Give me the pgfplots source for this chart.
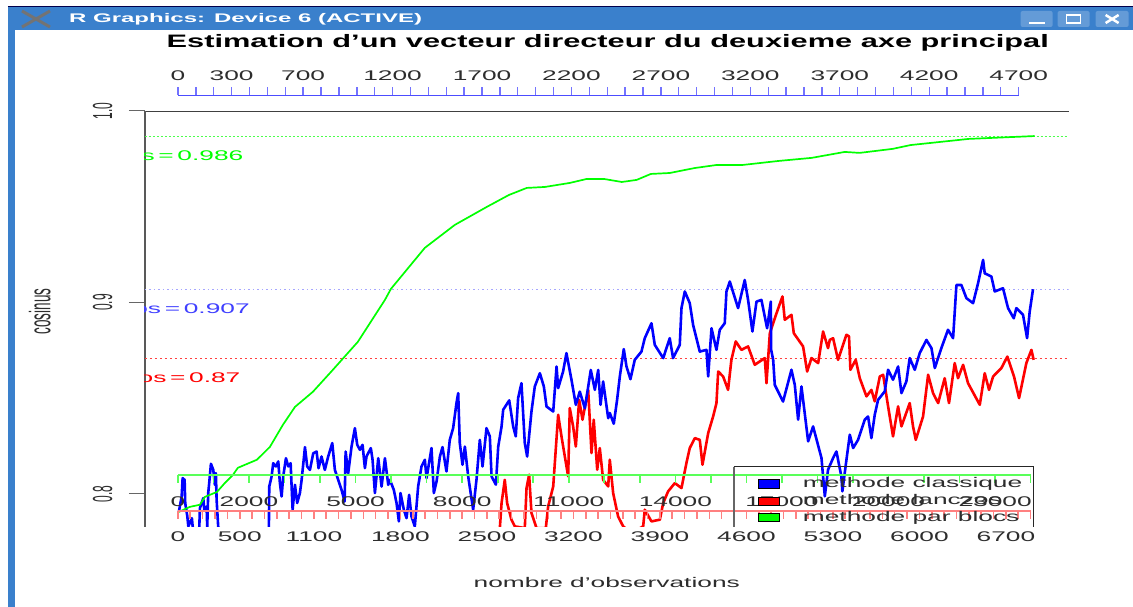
\documentclass[border=0pt]{standalone}
\usepackage{pgfplots}
\pgfplotsset{compat=1.18}
\usepackage{pgfplotstable}
\usepackage{fontspec}
\setmainfont{Liberation Sans}
\definecolor{barblue}{RGB}{58,128,204}
\definecolor{btnblue}{RGB}{100,155,215}
\definecolor{txt}{RGB}{45,45,45}
\newcommand{\tk}[1]{\scalebox{1.88}[1]{\fontsize{14}{14}\selectfont\textcolor{txt}{#1}}}
\newcommand{\yl}[1]{\scalebox{2.3}[1]{\rotatebox{90}{\fontsize{12}{12}\selectfont\textcolor{txt}{#1}}}}
\newcommand{\eqs}{\hspace{0.14em}=\hspace{0.14em}}
\pgfplotstableread{
n c
8 .7908
30 .7986
38 .8082
54 .8073
59 .7951
76 .7882
84 .7830
113 .7873
119 .7830
138 .7780
165 .7780
173 .7830
178 .7925
205 .7978
213 .7917
232 .7934
237 .7826
245 .8004
253 .8056
267 .8157
286 .8125
299 .8047
307 .8108
313 .7969
326 .7826
475 .7743
717 .7743
736 .7826
739 .8038
758 .8091
771 .8160
793 .8143
812 .8169
825 .8056
839 .7986
852 .8091
874 .8186
893 .8143
912 .8160
928 .7917
947 .8047
965 .7952
987 .8004
1001 .8073
1028 .8244
1046 .8143
1068 .8125
1095 .8212
1122 .8221
1138 .8134
1162 .8195
1189 .8125
1216 .8195
1249 .8265
1270 .8125
1297 .8073
1324 .8021
1349 .7960
1357 .8221
1378 .8108
1405 .8247
1432 .8343
1451 .8256
1473 .8230
1494 .8256
1513 .8134
1526 .8195
1561 .8239
1575 .8178
1594 .8004
1621 .8186
1648 .8038
1675 .8186
1702 .8047
1715 .8073
1747 .8021
1769 .7952
1788 .7856
1801 .8004
1828 .7917
1850 .7873
1871 .7995
1890 .7882
1917 .7830
1944 .8039
1971 .8143
1998 .8178
2012 .8082
2052 .8239
2071 .8004
2093 .8065
2120 .8195
2141 .8244
2173 .8117
2200 .8282
2227 .8343
2254 .8474
2268 .8526
2281 .8265
2303 .8152
2322 .8247
2349 .8091
2389 .7917
2416 .8073
2443 .8282
2465 .8143
2497 .8343
2524 .8300
2538 .8091
2573 .8048
2592 .8247
2619 .8352
2632 .8439
2681 .8488
2713 .8352
2734 .8300
2753 .8500
2780 .8578
2807 .8265
2826 .8195
2861 .8430
2888 .8561
2929 .8630
2961 .8561
2983 .8456
3037 .8430
3064 .8665
3077 .8552
3117 .8639
3144 .8735
3185 .8595
3220 .8465
3252 .8534
3293 .8447
3341 .8647
3374 .8543
3401 .8647
3420 .8465
3441 .8587
3482 .8395
3495 .8422
3527 .8366
3554 .8491
3576 .8613
3608 .8756
3630 .8665
3662 .8599
3697 .8700
3751 .8743
3778 .8813
3832 .8891
3859 .8778
3927 .8709
3980 .8813
4007 .8709
4061 .8778
4075 .8970
4102 .9057
4142 .8996
4169 .8883
4223 .8743
4277 .8752
4291 .8613
4318 .8865
4358 .8752
4385 .8857
4425 .8891
4439 .9057
4466 .9109
4533 .8970
4587 .9117
4614 .9013
4649 .8848
4682 .9004
4722 .9013
4768 .8865
4798 .9004
4801 .8752
4817 .8700
4830 .8569
4897 .8482
4965 .8648
4992 .8569
5019 .8387
5046 .8561
5100 .8274
5140 .8352
5208 .8187
5235 .7987
5261 .8126
5302 .8187
5329 .8221
5369 .8091
5377 .8013
5410 .8178
5437 .8309
5464 .8239
5504 .8282
5558 .8387
5585 .8404
5612 .8291
5639 .8413
5666 .8491
5720 .8535
5747 .8648
5787 .8596
5828 .8665
5855 .8526
5895 .8587
5922 .8709
5963 .8648
6003 .8735
6057 .8804
6098 .8761
6125 .8657
6178 .8761
6232 .8857
6273 .8813
6300 .9091
6340 .9091
6381 .9022
6435 .8996
6475 .9100
6516 .9222
6529 .9152
6583 .9135
6610 .9057
6677 .9074
6718 .8970
6764 .8917
6785 .8970
6839 .8935
6872 .8813
6893 .8952
6920 .9069
}\blue
\pgfplotstableread{
n c
2590 .7750
2605 .7821
2619 .7952
2645 .8073
2664 .7952
2699 .7865
2726 .7830
2807 .7821
2821 .8030
2842 .8100
2861 .7900
2902 .7821
2977 .7821
2996 .7934
3037 .8039
3050 .8161
3077 .8413
3104 .8300
3131 .8195
3158 .8091
3171 .8448
3198 .8352
3220 .8247
3247 .8491
3274 .8387
3320 .8543
3347 .8213
3365 .8387
3393 .8126
3414 .8239
3441 .8073
3482 .8039
3495 .8178
3522 .8004
3562 .7882
3603 .7830
3670 .7795
3765 .7830
3778 .7917
3832 .7856
3900 .7865
3927 .7952
3967 .8013
4021 .8056
4075 .8030
4115 .8161
4142 .8239
4183 .8291
4223 .8282
4245 .8152
4291 .8317
4331 .8404
4358 .8474
4372 .8639
4412 .8613
4452 .8543
4479 .8700
4514 .8796
4560 .8752
4614 .8770
4668 .8674
4749 .8709
4763 .8578
4790 .8839
4844 .8943
4892 .9031
4911 .8909
4965 .8935
4984 .8839
5059 .8770
5092 .8639
5127 .8709
5181 .8683
5221 .8848
5261 .8761
5275 .8804
5302 .8813
5342 .8700
5410 .8831
5431 .8822
5442 .8648
5485 .8700
5518 .8604
5572 .8509
5612 .8543
5639 .8483
5680 .8613
5707 .8622
5747 .8457
5787 .8300
5828 .8457
5855 .8352
5922 .8474
5949 .8352
5971 .8282
6030 .8404
6071 .8622
6111 .8526
6152 .8474
6205 .8604
6240 .8474
6286 .8683
6313 .8604
6354 .8674
6394 .8578
6489 .8465
6529 .8630
6564 .8543
6597 .8613
6664 .8657
6712 .8717
6766 .8613
6807 .8500
6866 .8683
6907 .8752
6925 .8700
}\red
\pgfplotstableread{
n c
8 .7906
97 .7932
178 .7943
218 .7984
316 .8010
380 .8057
445 .8099
485 .8136
639 .8178
744 .8245
849 .8360
947 .8454
1092 .8533
1254 .8648
1456 .8794
1675 .9013
1723 .9070
1998 .9285
2241 .9405
2500 .9499
2678 .9561
2823 .9598
2969 .9603
3171 .9624
3309 .9645
3446 .9645
3592 .9629
3713 .9640
3827 .9671
3980 .9676
4183 .9702
4361 .9718
4571 .9718
4862 .9739
5129 .9755
5396 .9786
5517 .9781
5784 .9802
5930 .9822
6165 .9838
6399 .9854
6577 .9859
6755 .9864
6933 .9869
}\greenline
\begin{document}
\begin{tikzpicture}[x=1pt,y=1pt]
% page and window
\path[fill=white] (0,0) rectangle (1133,-607);
\fill[barblue] (8,-7) rectangle (1133,-30);
\draw[black!70!blue,line width=0.8pt] (8,-6.6) -- (1133,-6.6);
\fill[barblue] (8,-30) rectangle (15,-607);
\draw[black!55,line width=3pt] (22,-11) -- (50,-27) (22,-27) -- (50,-11);
\node[anchor=west,inner sep=0,text=white] at (69,-19.5) {\scalebox{1.92}[1]{\fontsize{12.5}{13}\selectfont\bfseries R Graphics: Device 6 (ACTIVE)}};
\foreach \a/\b in {1021/1053,1058/1090,1096/1129}{\fill[btnblue,rounded corners=2pt] (\a,-11) rectangle (\b,-27);}
\fill[white] (1029,-22) rectangle (1045,-24.5);
\draw[white,line width=1.5pt] (1067,-15) rectangle (1081,-23);
\draw[white,line width=2.5pt] (1106,-15) -- (1119,-23) (1106,-23) -- (1119,-15);
% title
\node[inner sep=0] at (608,-42.5) {\scalebox{1.71}[1]{\fontsize{18}{18}\selectfont\bfseries Estimation d'un vecteur directeur du deuxieme axe principal}};
% main axis
\begin{axis}[
  at={(145pt,-527pt)},anchor=south west,
  scale only axis,width=924pt,height=416pt,
  xmin=-267,xmax=7208,ymin=0.78277,ymax=1,
  separate axis lines,
  axis y line*=left,axis x line*=top,
  xtick=\empty,
  ytick={0.8,0.9,1},
  yticklabels={\yl{0.8},\yl{0.9},\yl{1.0}},
  tick align=outside,major tick length=16pt,
  tick style={black!60,line width=1pt},
  y axis line style={black!65,line width=1.8pt},
  x axis line style={black!75,line width=0.9pt},
  yticklabel style={xshift=-13pt},
  ylabel={\scalebox{2.2}[1]{\rotatebox{90}{\fontsize{13.5}{14}\selectfont\textcolor{txt}{cosinus}}}},
  ylabel style={rotate=-90,at={(axis description cs:-0.114,0.518)},anchor=center},
  clip=true,
]
\addplot[green!70!white,line width=0.8pt,dash pattern=on 2pt off 2pt,forget plot] coordinates {(-267,0.9867) (7208,0.9867)};
\addplot[blue!35,line width=1.2pt,dash pattern=on 1.5pt off 3pt,forget plot] coordinates {(-267,0.9068) (7208,0.9068)};
\addplot[red!75,line width=0.8pt,dash pattern=on 2.5pt off 2.5pt,forget plot] coordinates {(-267,0.8708) (7208,0.8708)};
\addplot[red,line width=2.6pt,line join=round] table[x=n,y=c] {\red};
\addplot[blue,line width=2.6pt,line join=round] table[x=n,y=c] {\blue};
\addplot[green,line width=1.7pt,line join=round] table[x=n,y=c] {\greenline};
\end{axis}
% blue top axis
\begin{axis}[
  at={(178pt,-96.3pt)},anchor=south west,
  scale only axis,width=841pt,height=1pt,
  xmin=0,xmax=4700,ymin=0,ymax=1,
  axis x line*=top,axis y line=none,
  scaled x ticks=false,
  xtick={0,100,...,4700},
  xticklabels=\empty,
  extra x ticks={0,300,700,1200,1700,2200,2700,3200,3700,4200,4700},
  extra x tick labels={\tk{0},\tk{300},\tk{700},\tk{1200},\tk{1700},\tk{2200},\tk{2700},\tk{3200},\tk{3700},\tk{4200},\tk{4700}},
  tick align=outside,major tick length=8pt,
  tick style={blue!55,line width=1.4pt},
  x axis line style={blue!70,line width=1pt},
  extra x tick style={xticklabel style={yshift=3pt}},
]
\end{axis}
% green axis
\begin{axis}[
  at={(178pt,-475pt)},anchor=south west,
  scale only axis,width=853pt,height=1pt,
  xmin=0,xmax=24000,ymin=0,ymax=1,
  axis x line*=bottom,axis y line=none,
  scaled x ticks=false,
  xtick={0,1000,...,24000},
  xticklabels=\empty,
  extra x ticks={0,2000,5000,8000,11000,14000,17000,20000,23000},
  extra x tick labels={\tk{0},\tk{2000},\tk{5000},\tk{8000},\tk{11000},\tk{14000},\tk{17000},\tk{20000},\tk{23000}},
  tick align=outside,major tick length=8pt,
  tick style={green!65!white,line width=1.6pt},
  x axis line style={green!65!white,line width=1.5pt},
  extra x tick style={xticklabel style={yshift=-10pt}},
]
\end{axis}
% red axis
\begin{axis}[
  at={(178pt,-511pt)},anchor=south west,
  scale only axis,width=853pt,height=1pt,
  xmin=0,xmax=6900,ymin=0,ymax=1,
  axis x line*=bottom,axis y line=none,
  scaled x ticks=false,
  xtick={0,100,...,6900},
  xticklabels=\empty,
  extra x ticks={0,500,1100,1800,2500,3200,3900,4600,5300,6000,6700},
  extra x tick labels={\tk{0},\tk{500},\tk{1100},\tk{1800},\tk{2500},\tk{3200},\tk{3900},\tk{4600},\tk{5300},\tk{6000},\tk{6700}},
  tick align=outside,major tick length=8pt,
  tick style={red!50,line width=1.6pt},
  x axis line style={red!50,line width=1.5pt},
  extra x tick style={xticklabel style={yshift=-9pt}},
]
\end{axis}
% s = labels, cut by the left edge of the plot
\begin{scope}
\clip (145,-120) rectangle (400,-400);
\node[anchor=east,inner sep=0] at (243.6,-155.5) {\scalebox{1.88}[1]{\fontsize{14}{14}\selectfont\textcolor{green}{cos\eqs 0.986}}};
\node[anchor=east,inner sep=0] at (250,-309) {\scalebox{1.88}[1]{\fontsize{14}{14}\selectfont\textcolor{blue!75}{cos\eqs 0.907}}};
\node[anchor=east,inner sep=0] at (240.7,-378) {\scalebox{1.88}[1]{\fontsize{14}{14}\selectfont\textcolor{red}{cos\eqs 0.87}}};
\end{scope}
% legend
\draw[black!60,line width=2pt] (734,-527) -- (734,-467);
\draw[black!85,line width=1pt] (734,-467) -- (1034,-467) -- (1034,-527);
\fill[blue,draw=black] (758,-479) rectangle (779,-488);
\fill[red,draw=black] (758,-497) rectangle (779,-505);
\fill[green,draw=black] (758,-513) rectangle (779,-521);
\node[anchor=base west,inner sep=0] at (803,-488) {\tk{methode classique}};
\node[anchor=base west,inner sep=0] at (803,-505) {\tk{methode lanczos}};
\node[anchor=base west,inner sep=0] at (803,-522) {\tk{methode par blocs}};
% x label
\node[inner sep=0] at (607,-583) {\tk{nombre d'observations}};
\end{tikzpicture}
\end{document}
